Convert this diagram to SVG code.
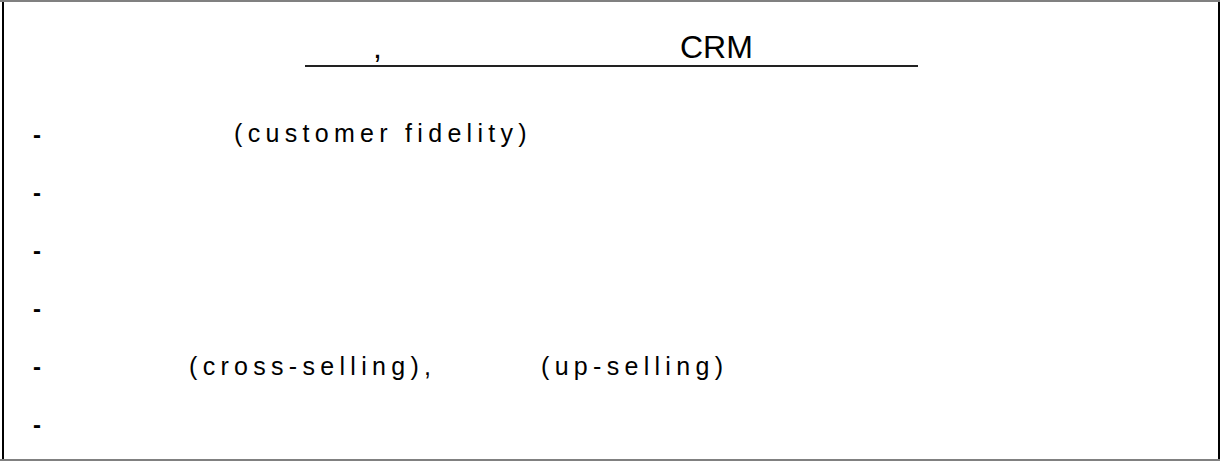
<svg xmlns="http://www.w3.org/2000/svg" width="1220" height="461" viewBox="0 0 1220 461">
<style>
.t{font-family:"Liberation Sans",Arial,sans-serif;font-size:25px;fill:#000;letter-spacing:5.3px}
.d{font-family:"Liberation Sans",Arial,sans-serif;font-size:24px;font-weight:bold;fill:#000}
.h{font-family:"Liberation Sans",Arial,sans-serif;font-size:32px;fill:#000}
</style>
<rect width="1220" height="461" fill="#fff"/>
<g id="frame">
<rect x="0" y="0" width="1220" height="2" fill="#808080"/>
<rect x="0" y="459" width="1220" height="2" fill="#808080"/>
<rect x="2" y="2" width="2" height="457" fill="#000"/>
<rect x="1218" y="2" width="2" height="457" fill="#000"/>
</g>
<g id="title">
<text class="h" x="373" y="58">,</text>
<text class="h" x="680" y="58">CRM</text>
<rect x="305" y="65" width="613" height="2" fill="#222"/>
</g>
<g id="item1">
<text class="d" x="33" y="143">-</text>
<text class="t" x="234" y="142">(customer fidelity)</text>
</g>
<g id="item2"><text class="d" x="33" y="201">-</text></g>
<g id="item3"><text class="d" x="33" y="259">-</text></g>
<g id="item4"><text class="d" x="33" y="317">-</text></g>
<g id="item5">
<text class="d" x="33" y="375">-</text>
<text class="t" x="189" y="375">(cross-selling),</text>
<text class="t" x="541" y="375">(up-selling)</text>
</g>
<g id="item6"><text class="d" x="33" y="433">-</text></g>
</svg>
